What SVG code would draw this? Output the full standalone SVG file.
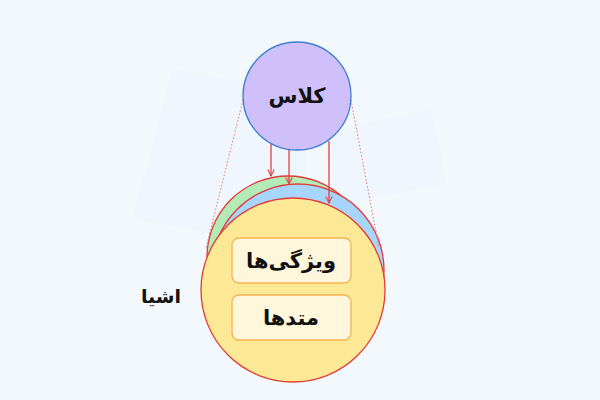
<svg xmlns="http://www.w3.org/2000/svg" width="600" height="400" viewBox="0 0 600 400">
<style>
.lbl{font-family:"DejaVu Sans","Noto Sans",sans-serif;font-weight:bold;fill:#111;text-anchor:middle;dominant-baseline:central}
.obj{stroke:#e53935;stroke-width:1.3}
.box{fill:#fff7dc;stroke:#f5b451;stroke-width:1.3}
.arr{stroke:#e04040;stroke-width:1.3;fill:none;marker-end:url(#ah)}
.dot{stroke:#e57373;stroke-width:1;stroke-dasharray:1.5 2;fill:none}
</style>
<defs>
<marker id="ah" viewBox="0 0 10 10" refX="9" refY="5" markerWidth="8" markerHeight="8" orient="auto" markerUnits="userSpaceOnUse">
<path d="M1,1 L9,5 L1,9" fill="none" stroke="#e04040" stroke-width="1.3"/>
</marker>
</defs>
<rect width="600" height="400" fill="#f3f8fd"/>
<g id="watermark" fill="#f0f6fd">
<path d="M180,70 L310,95 L300,250 L140,220 Q132,218 135,210 L170,78 Q173,68 180,70Z"/>
<rect x="330" y="120" width="110" height="75" rx="6" transform="rotate(-12 385 157)"/>
</g>
<g id="object-green"><circle class="obj" cx="288" cy="257" r="81" fill="#b2eab8"/></g>
<g id="object-blue"><circle class="obj" cx="298" cy="270" r="86" fill="#a8d5fb"/></g>
<g id="object-yellow"><circle class="obj" cx="293" cy="290" r="92" fill="#fde896"/></g>
<g id="connectors">
<line class="dot" x1="243" y1="100" x2="206" y2="248"/>
<line class="dot" x1="351" y1="100" x2="379" y2="248"/>
<line class="arr" x1="271" y1="143" x2="271" y2="176"/>
<line class="arr" x1="289" y1="148" x2="289" y2="184"/>
<line class="arr" x1="329" y1="141" x2="329" y2="203"/>
</g>
<g id="attributes">
<rect class="box" x="232" y="238" width="119" height="45" rx="7"/>
<text class="lbl" x="291" y="261" font-size="21">ویژگی‌ها</text>
</g>
<g id="methods">
<rect class="box" x="232" y="295" width="119" height="45" rx="7"/>
<text class="lbl" x="291" y="318" font-size="21">متدها</text>
</g>
<g id="class">
<circle cx="297" cy="96" r="54" fill="#cfc0fc" stroke="#3f7fd0" stroke-width="1.3"/>
<text class="lbl" x="297" y="96" font-size="21">کلاس</text>
</g>
<g id="objects-label">
<text class="lbl" x="161" y="296" font-size="19">اشیا</text>
</g>
</svg>
